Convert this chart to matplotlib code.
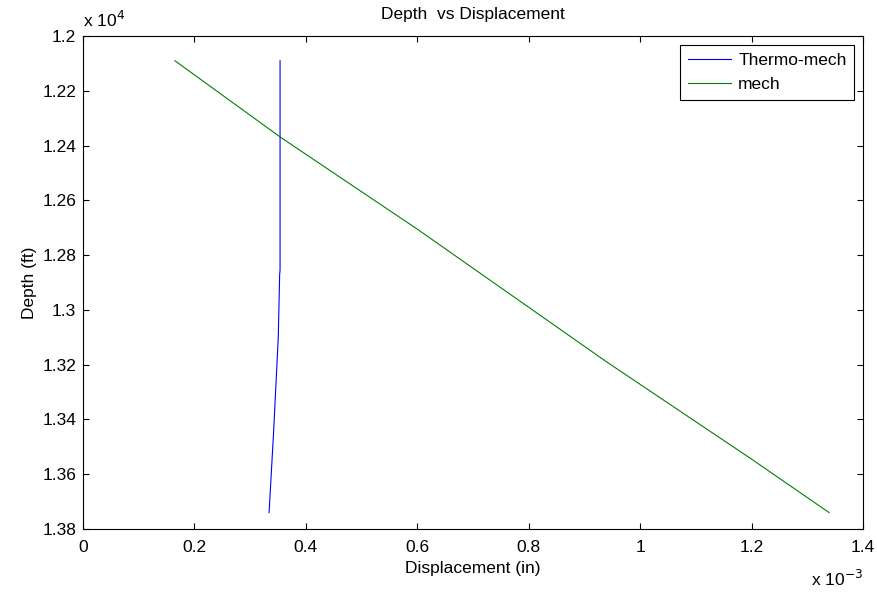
import matplotlib
matplotlib.use('Agg')
from matplotlib import pyplot as plt
from matplotlib.ticker import FuncFormatter, MultipleLocator
import numpy as np

plt.rcParams['font.family'] = ['Liberation Sans', 'DejaVu Sans']
plt.rcParams['font.size'] = 12.5

# displacement (in) and depth (ft)
thermo_disp = [0.3537e-3, 0.3537e-3, 0.3537e-3, 0.3530e-3, 0.3505e-3, 0.3420e-3, 0.3340e-3]
thermo_depth = [12090, 12400, 12855, 12870, 13100, 13450, 13740]
mech_disp = [0.165e-3, 0.355e-3, 0.60e-3, 0.94e-3, 1.20e-3, 1.339e-3]
mech_depth = [12090, 12370, 12705, 13190, 13545, 13740]

fig = plt.figure(figsize=(8.78, 5.92), dpi=100)
ax = fig.add_axes([0.0945, 0.1064, 0.8885, 0.8326])

ax.plot(thermo_disp, thermo_depth, color='#0000ff', lw=0.8, label='Thermo-mech')
ax.plot(mech_disp, mech_depth, color='#008000', lw=0.8, label='mech')

ax.set_xlim(0, 1.4e-3)
ax.set_ylim(13800, 12000)
ax.xaxis.set_major_locator(MultipleLocator(0.2e-3))
ax.yaxis.set_major_locator(MultipleLocator(200))
ax.xaxis.set_major_formatter(FuncFormatter(lambda v, p: '%g' % round(v * 1e3, 6)))
ax.yaxis.set_major_formatter(FuncFormatter(lambda v, p: '%g' % round(v / 1e4, 6)))
ax.tick_params(direction='in', top=True, right=True, length=4, width=0.8)
ax.tick_params(axis='x', pad=8)
ax.tick_params(axis='y', pad=5)
for s in ax.spines.values():
    s.set_linewidth(0.8)

ax.text(0.0, 1.012, r'x 10$^{4}$', transform=ax.transAxes, ha='left', va='bottom')
ax.text(1.0, -0.08, r'x 10$^{-3}$', transform=ax.transAxes, ha='right', va='top')

ax.set_xlabel('Displacement (in)', labelpad=4)
ax.set_ylabel('Depth (ft)', labelpad=4)
ax.set_title('Depth  vs Displacement', fontsize=12.5, pad=12)

leg = ax.legend(loc='upper right', fancybox=False, edgecolor='black', framealpha=1,
                borderaxespad=0.5, handlelength=2.5, handletextpad=0.4,
                labelspacing=0.55, borderpad=0.45)
leg.get_frame().set_linewidth(0.8)

fig.savefig('out.png', dpi=100)
